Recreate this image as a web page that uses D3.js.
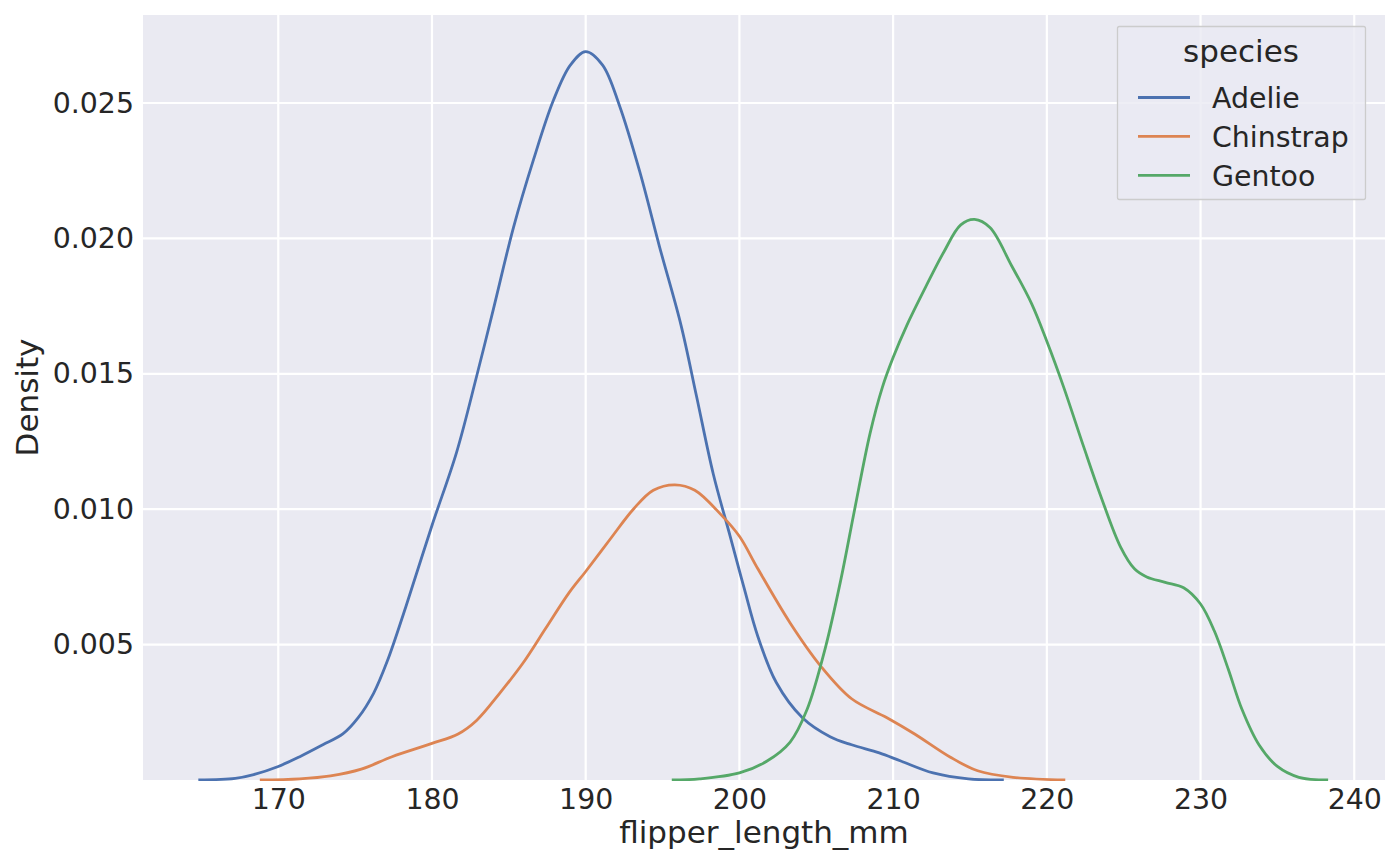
<!DOCTYPE html>
<html>
<head>
<meta charset="utf-8">
<script src="https://cdn.jsdelivr.net/npm/d3@7"></script>
<style>
  body { margin: 0; background: #ffffff; }
  svg text { font-family: "DejaVu Sans", sans-serif; fill: #262626; }
</style>
</head>
<body>
<div id="chart"></div>
<script>
// density curves
var species = ["Adelie", "Chinstrap", "Gentoo"];
var colors = ["#4c72b0", "#dd8452", "#55a868"];

var adelieX = [164.8, 167.2, 168.4, 170, 171.4, 172.9, 174.2, 175.2, 176.2, 177.1, 178.3, 180, 181.6, 182.9, 184.0, 185.3, 186.6, 187.9, 189.0, 190.0, 191.1, 192.2, 193.5, 194.8, 196.2, 197.2, 198.3, 199.4, 200.3, 201.2, 202.4, 204.1, 205.9, 207.3, 209.1, 210.5, 212.6, 214.9, 217.2];
var adelieD = [0, 0.00006, 0.0002, 0.0005, 0.00086, 0.0013, 0.0017, 0.0023, 0.0032, 0.0044, 0.0064, 0.0094, 0.0121, 0.0149, 0.0174, 0.0204, 0.0229, 0.0251, 0.0264, 0.0269, 0.0264, 0.0249, 0.0225, 0.0197, 0.0168, 0.0142, 0.0113, 0.0090, 0.0071, 0.0053, 0.0036, 0.0023, 0.0016, 0.0013, 0.0010, 0.0007, 0.00026, 0.00004, 0];

var chinstrapX = [168.8, 171.4, 173.4, 175.4, 177.4, 180, 181.7, 182.9, 184.4, 185.9, 187.4, 188.9, 190, 191.6, 193.1, 194.4, 195.8, 197.1, 198.8, 200, 201.2, 203.3, 205.3, 207.3, 209.6, 211.4, 213.7, 215.5, 217.8, 221.2];
var chinstrapD = [0, 0.00004, 0.00015, 0.0004, 0.00086, 0.00135, 0.0017, 0.0022, 0.0032, 0.0043, 0.0056, 0.0069, 0.0077, 0.0089, 0.0100, 0.0107, 0.0109, 0.0107, 0.0098, 0.0090, 0.0078, 0.0058, 0.0042, 0.0030, 0.0023, 0.0017, 0.00085, 0.00034, 0.0001, 0];

var gentooX = [195.6, 197.4, 200, 201.8, 203.3, 204.4, 205.6, 206.6, 207.5, 208.5, 209.3, 210, 210.9, 212.2, 213.3, 214.4, 215.3, 216.3, 217.7, 219.0, 220, 221.1, 222.4, 223.5, 224.8, 225.7, 226.5, 227.7, 228.9, 230, 230.9, 231.8, 232.7, 233.8, 235, 236.4, 238.3];
var gentooD = [0, 0.00004, 0.00026, 0.0007, 0.0014, 0.0026, 0.0049, 0.0074, 0.0100, 0.0128, 0.0145, 0.0156, 0.0168, 0.0183, 0.0195, 0.0205, 0.0207, 0.0204, 0.0190, 0.0176, 0.0162, 0.0145, 0.0123, 0.0105, 0.0086, 0.0078, 0.0075, 0.0073, 0.0071, 0.0065, 0.0055, 0.0041, 0.0026, 0.0013, 0.0005, 0.0001, 0];

var xTicks = [170, 180, 190, 200, 210, 220, 230, 240];
var yTicks = [0.005, 0.010, 0.015, 0.020, 0.025];

var W = 1400, H = 866;
var plotL = 143, plotR = 1385, plotT = 15, plotB = 780;

var svg = d3.select("#chart").append("svg")
  .attr("width", W).attr("height", H);

var x = d3.scaleLinear().domain([161.2, 242.0]).range([plotL, plotR]);
var y = d3.scaleLinear().domain([0, 0.02825]).range([plotB, plotT]);

svg.append("clipPath").attr("id", "plotclip")
  .append("rect")
  .attr("x", plotL).attr("y", plotT)
  .attr("width", plotR - plotL).attr("height", plotB - plotT + 1);

// background
svg.append("rect")
  .attr("x", plotL).attr("y", plotT)
  .attr("width", plotR - plotL).attr("height", plotB - plotT)
  .attr("fill", "#eaeaf2");

// grid lines
svg.append("g").selectAll("line").data(xTicks).enter().append("line")
  .attr("x1", function(d){ return x(d); }).attr("x2", function(d){ return x(d); })
  .attr("y1", plotT).attr("y2", plotB)
  .attr("stroke", "#ffffff").attr("stroke-width", 2.2);
svg.append("g").selectAll("line").data(yTicks).enter().append("line")
  .attr("x1", plotL).attr("x2", plotR)
  .attr("y1", function(d){ return y(d); }).attr("y2", function(d){ return y(d); })
  .attr("stroke", "#ffffff").attr("stroke-width", 2.2);

// axes (labels only, no ticks or spines)
var xAxis = svg.append("g")
  .attr("transform", "translate(0," + plotB + ")")
  .call(d3.axisBottom(x).tickValues(xTicks).tickSize(0).tickPadding(9).tickFormat(d3.format("d")));
var yAxis = svg.append("g")
  .attr("transform", "translate(" + plotL + ",0)")
  .call(d3.axisLeft(y).tickValues(yTicks).tickSize(0).tickPadding(9).tickFormat(d3.format(".3f")));
[xAxis, yAxis].forEach(function(a){
  a.select(".domain").remove();
  a.selectAll("text").style("font-size", "28.4px").attr("fill", "#262626")
    .style("font-family", "DejaVu Sans");
});

// axis titles
svg.append("text")
  .attr("x", (plotL + plotR) / 2).attr("y", 843)
  .attr("text-anchor", "middle")
  .style("font-size", "31px")
  .text("flipper_length_mm");
svg.append("text")
  .attr("transform", "translate(38," + ((plotT + plotB) / 2) + ") rotate(-90)")
  .attr("text-anchor", "middle")
  .style("font-size", "31px")
  .text("Density");

// curves
var line = d3.line()
  .x(function(d){ return x(d[0]); })
  .y(function(d){ return y(d[1]); })
  .curve(d3.curveCatmullRom.alpha(0.5));

var series = [
  d3.zip(adelieX, adelieD),
  d3.zip(chinstrapX, chinstrapD),
  d3.zip(gentooX, gentooD)
];

svg.append("g").attr("clip-path", "url(#plotclip)")
  .selectAll("path").data(series).enter().append("path")
  .attr("d", line)
  .attr("fill", "none")
  .attr("stroke", function(d, i){ return colors[i]; })
  .attr("stroke-width", 2.8)
  .attr("stroke-linejoin", "round")
  .attr("stroke-linecap", "butt");

// legend
var legend = svg.append("g");
legend.append("rect")
  .attr("x", 1117.5).attr("y", 26.5)
  .attr("width", 248).attr("height", 173)
  .attr("rx", 2)
  .attr("fill", "#eaeaf2").attr("fill-opacity", 0.8)
  .attr("stroke", "#cccccc").attr("stroke-width", 1.3);
legend.append("text")
  .attr("x", 1241).attr("y", 62)
  .attr("text-anchor", "middle")
  .style("font-size", "31px")
  .text("species");
var items = legend.selectAll("g.item").data(species).enter().append("g")
  .attr("transform", function(d, i){ return "translate(0," + (97.5 + i * 38.9) + ")"; });
items.append("line")
  .attr("x1", 1138).attr("x2", 1190)
  .attr("y1", 0).attr("y2", 0)
  .attr("stroke", function(d, i){ return colors[i]; })
  .attr("stroke-width", 2.8);
items.append("text")
  .attr("x", 1212).attr("y", 0)
  .attr("dy", "0.36em")
  .style("font-size", "28.4px")
  .text(function(d){ return d; });
</script>
</body>
</html>
